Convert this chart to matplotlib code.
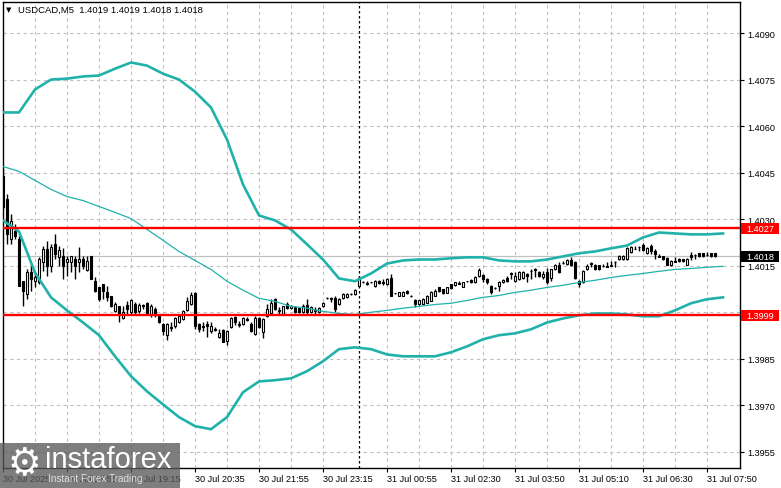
import matplotlib
matplotlib.use("Agg")
import matplotlib.pyplot as plt
import matplotlib.transforms as mtransforms
from matplotlib.patches import Rectangle

plt.rcParams["font.family"] = ["Liberation Sans", "DejaVu Sans"]

# USDCAD M5 candles (bar 0 = left edge)
open_ = [
    1.40438, 1.40364, 1.40235, 1.40261, 1.40235, 1.40100, 1.40058, 1.40129, 1.40100, 1.40096,
    1.40161, 1.40203, 1.40148, 1.40219, 1.40177, 1.40180, 1.40161, 1.40161, 1.40171, 1.40161,
    1.40171, 1.40135, 1.40180, 1.40100, 1.40080, 1.40090, 1.40064, 1.40051, 1.40003, 1.40019,
    1.39980, 1.40022, 1.40000, 1.40025, 1.40003, 1.40022, 1.40029, 1.39990, 1.40009, 1.39987,
    1.39961, 1.39926, 1.39951, 1.39955, 1.39967, 1.39977, 1.40006, 1.40025, 1.40061, 1.39961,
    1.39955, 1.39961, 1.39938, 1.39945, 1.39919, 1.39942, 1.39906, 1.39951, 1.39984, 1.39961,
    1.39961, 1.39977, 1.39961, 1.39929, 1.39980, 1.39935, 1.39987, 1.39996, 1.40042, 1.40003,
    1.39993, 1.40025, 1.40013, 1.40016, 1.40013, 1.40000, 1.40022, 1.40000, 1.40003, 1.40000,
    1.40019, 1.40045, 1.40045, 1.40045, 1.40025, 1.40045, 1.40048, 1.40058, 1.40058, 1.40084,
    1.40096, 1.40093, 1.40096, 1.40084, 1.40100, 1.40096, 1.40090, 1.40109, 1.40061, 1.40051,
    1.40051, 1.40067, 1.40051, 1.40038, 1.40025, 1.40025, 1.40029, 1.40035, 1.40051, 1.40080,
    1.40074, 1.40061, 1.40090, 1.40087, 1.40093, 1.40080, 1.40100, 1.40103, 1.40096, 1.40116,
    1.40119, 1.40106, 1.40084, 1.40077, 1.40084, 1.40096, 1.40109, 1.40125, 1.40100, 1.40106,
    1.40109, 1.40122, 1.40132, 1.40138, 1.40129, 1.40113, 1.40129, 1.40109, 1.40138, 1.40151,
    1.40158, 1.40155, 1.40167, 1.40161, 1.40100, 1.40096, 1.40138, 1.40158, 1.40151, 1.40151,
    1.40148, 1.40148, 1.40148, 1.40161, 1.40171, 1.40171, 1.40171, 1.40193, 1.40203, 1.40209,
    1.40216, 1.40190, 1.40213, 1.40196, 1.40180, 1.40180, 1.40174, 1.40151, 1.40164, 1.40171,
    1.40171, 1.40151, 1.40184, 1.40184, 1.40190, 1.40190, 1.40184, 1.40190, 1.40190,
]
close_ = [
    1.40338, 1.40251, 1.40293, 1.40245, 1.40084, 1.40067, 1.40129, 1.40106, 1.40113, 1.40171,
    1.40203, 1.40148, 1.40209, 1.40187, 1.40200, 1.40148, 1.40171, 1.40180, 1.40148, 1.40171,
    1.40148, 1.40164, 1.40106, 1.40067, 1.40042, 1.40067, 1.40048, 1.40019, 1.40025, 1.39993,
    1.40000, 1.40009, 1.40038, 1.40000, 1.40022, 1.40019, 1.39996, 1.40019, 1.39993, 1.39967,
    1.39938, 1.39961, 1.39948, 1.39980, 1.39987, 1.40003, 1.40035, 1.40055, 1.39955, 1.39945,
    1.39951, 1.39955, 1.39955, 1.39942, 1.39932, 1.39903, 1.39938, 1.39980, 1.39967, 1.39958,
    1.39980, 1.39974, 1.39938, 1.39980, 1.39951, 1.39977, 1.40009, 1.40029, 1.40009, 1.40006,
    1.40019, 1.40013, 1.40019, 1.40000, 1.40000, 1.40019, 1.40000, 1.40016, 1.40006, 1.40013,
    1.40029, 1.40045, 1.40042, 1.40009, 1.40042, 1.40058, 1.40058, 1.40058, 1.40071, 1.40109,
    1.40096, 1.40090, 1.40096, 1.40100, 1.40093, 1.40093, 1.40106, 1.40051, 1.40061, 1.40064,
    1.40064, 1.40061, 1.40051, 1.40025, 1.40038, 1.40042, 1.40051, 1.40064, 1.40067, 1.40067,
    1.40061, 1.40080, 1.40077, 1.40096, 1.40090, 1.40096, 1.40100, 1.40096, 1.40113, 1.40135,
    1.40106, 1.40096, 1.40064, 1.40077, 1.40096, 1.40103, 1.40100, 1.40122, 1.40116, 1.40129,
    1.40129, 1.40116, 1.40132, 1.40135, 1.40116, 1.40122, 1.40096, 1.40138, 1.40151, 1.40129,
    1.40158, 1.40167, 1.40151, 1.40109, 1.40090, 1.40132, 1.40148, 1.40155, 1.40138, 1.40138,
    1.40148, 1.40145, 1.40151, 1.40161, 1.40180, 1.40180, 1.40206, 1.40209, 1.40203, 1.40209,
    1.40200, 1.40206, 1.40196, 1.40187, 1.40177, 1.40171, 1.40151, 1.40164, 1.40161, 1.40164,
    1.40164, 1.40171, 1.40177, 1.40184, 1.40180, 1.40180, 1.40184, 1.40180, 1.40180,
]
high_ = [
    1.40461, 1.40380, 1.40316, 1.40284, 1.40245, 1.40100, 1.40138, 1.40155, 1.40129, 1.40177,
    1.40213, 1.40229, 1.40219, 1.40251, 1.40213, 1.40206, 1.40180, 1.40180, 1.40180, 1.40209,
    1.40180, 1.40180, 1.40180, 1.40113, 1.40080, 1.40090, 1.40084, 1.40051, 1.40032, 1.40019,
    1.40019, 1.40035, 1.40042, 1.40032, 1.40029, 1.40025, 1.40032, 1.40025, 1.40016, 1.39990,
    1.39964, 1.39964, 1.39967, 1.39984, 1.39990, 1.40006, 1.40048, 1.40064, 1.40064, 1.39964,
    1.39967, 1.39971, 1.39967, 1.39951, 1.39945, 1.39945, 1.39942, 1.39984, 1.39987, 1.39971,
    1.39984, 1.39984, 1.39967, 1.39987, 1.39984, 1.39980, 1.40025, 1.40042, 1.40045, 1.40016,
    1.40019, 1.40032, 1.40022, 1.40019, 1.40016, 1.40025, 1.40042, 1.40019, 1.40016, 1.40016,
    1.40032, 1.40048, 1.40048, 1.40051, 1.40045, 1.40061, 1.40061, 1.40061, 1.40074, 1.40116,
    1.40100, 1.40100, 1.40096, 1.40103, 1.40103, 1.40106, 1.40109, 1.40122, 1.40061, 1.40064,
    1.40067, 1.40071, 1.40055, 1.40042, 1.40038, 1.40045, 1.40055, 1.40067, 1.40074, 1.40080,
    1.40074, 1.40080, 1.40090, 1.40096, 1.40100, 1.40096, 1.40100, 1.40106, 1.40116, 1.40142,
    1.40122, 1.40109, 1.40087, 1.40080, 1.40100, 1.40106, 1.40116, 1.40129, 1.40129, 1.40132,
    1.40132, 1.40125, 1.40138, 1.40142, 1.40132, 1.40132, 1.40142, 1.40138, 1.40155, 1.40161,
    1.40164, 1.40171, 1.40177, 1.40164, 1.40103, 1.40135, 1.40155, 1.40161, 1.40155, 1.40151,
    1.40155, 1.40161, 1.40164, 1.40164, 1.40184, 1.40184, 1.40209, 1.40213, 1.40213, 1.40213,
    1.40222, 1.40209, 1.40219, 1.40203, 1.40187, 1.40180, 1.40177, 1.40167, 1.40177, 1.40174,
    1.40171, 1.40174, 1.40193, 1.40187, 1.40190, 1.40190, 1.40193, 1.40190, 1.40190,
]
low_ = [
    1.40332, 1.40219, 1.40219, 1.40235, 1.40084, 1.40019, 1.40042, 1.40067, 1.40080, 1.40090,
    1.40132, 1.40116, 1.40129, 1.40171, 1.40148, 1.40106, 1.40116, 1.40129, 1.40106, 1.40129,
    1.40138, 1.40132, 1.40106, 1.40064, 1.40035, 1.40042, 1.40035, 1.40016, 1.40000, 1.39967,
    1.39977, 1.39993, 1.39993, 1.39990, 1.39996, 1.40009, 1.39993, 1.39984, 1.39984, 1.39964,
    1.39926, 1.39909, 1.39938, 1.39948, 1.39964, 1.39974, 1.40003, 1.40022, 1.39945, 1.39935,
    1.39938, 1.39919, 1.39932, 1.39938, 1.39916, 1.39903, 1.39896, 1.39948, 1.39958, 1.39951,
    1.39958, 1.39971, 1.39935, 1.39926, 1.39948, 1.39916, 1.39984, 1.39993, 1.40006, 1.39993,
    1.39990, 1.40009, 1.40009, 1.39996, 1.39996, 1.39996, 1.39993, 1.39996, 1.39993, 1.39996,
    1.40016, 1.40042, 1.40032, 1.40000, 1.40022, 1.40042, 1.40045, 1.40055, 1.40055, 1.40080,
    1.40093, 1.40087, 1.40093, 1.40080, 1.40090, 1.40087, 1.40087, 1.40051, 1.40058, 1.40051,
    1.40051, 1.40058, 1.40048, 1.40016, 1.40022, 1.40025, 1.40029, 1.40035, 1.40051, 1.40064,
    1.40058, 1.40061, 1.40074, 1.40084, 1.40090, 1.40080, 1.40096, 1.40093, 1.40093, 1.40113,
    1.40096, 1.40090, 1.40058, 1.40074, 1.40067, 1.40093, 1.40096, 1.40106, 1.40096, 1.40103,
    1.40106, 1.40096, 1.40106, 1.40113, 1.40113, 1.40106, 1.40090, 1.40100, 1.40135, 1.40125,
    1.40155, 1.40151, 1.40148, 1.40106, 1.40080, 1.40093, 1.40135, 1.40145, 1.40135, 1.40135,
    1.40145, 1.40145, 1.40148, 1.40145, 1.40167, 1.40167, 1.40167, 1.40190, 1.40203, 1.40196,
    1.40196, 1.40187, 1.40187, 1.40171, 1.40177, 1.40167, 1.40151, 1.40148, 1.40161, 1.40161,
    1.40161, 1.40151, 1.40167, 1.40171, 1.40177, 1.40177, 1.40180, 1.40177, 1.40177,
]

# Bollinger bands, sampled every 4 bars
band_idx = list(range(0, 181, 4))
upper_band = [
    1.40644, 1.40644, 1.40718, 1.40750, 1.40753, 1.40760, 1.40763, 1.40785, 1.40805, 1.40795,
    1.40769, 1.40750, 1.40711, 1.40660, 1.40557, 1.40412, 1.40312, 1.40296, 1.40267, 1.40219,
    1.40170, 1.40109, 1.40100, 1.40125, 1.40157, 1.40167, 1.40170, 1.40170, 1.40174, 1.40177,
    1.40177, 1.40167, 1.40164, 1.40164, 1.40170, 1.40180, 1.40190, 1.40196, 1.40206, 1.40215,
    1.40241, 1.40257, 1.40254, 1.40251, 1.40251, 1.40254,
]
middle_band = [
    1.40470, 1.40454, 1.40425, 1.40396, 1.40373, 1.40360, 1.40341, 1.40322, 1.40302, 1.40267,
    1.40232, 1.40196, 1.40167, 1.40138, 1.40100, 1.40071, 1.40045, 1.40035, 1.40019, 1.40013,
    1.40003, 1.39996, 1.39993, 1.40000, 1.40006, 1.40013, 1.40019, 1.40025, 1.40029, 1.40038,
    1.40048, 1.40054, 1.40064, 1.40071, 1.40080, 1.40087, 1.40096, 1.40103, 1.40112, 1.40119,
    1.40125, 1.40132, 1.40138, 1.40141, 1.40145, 1.40148,
]
lower_band = [
    1.40296, 1.40260, 1.40128, 1.40048, 1.40006, 1.39967, 1.39926, 1.39858, 1.39794, 1.39745,
    1.39703, 1.39662, 1.39633, 1.39623, 1.39662, 1.39742, 1.39777, 1.39781, 1.39787, 1.39810,
    1.39842, 1.39881, 1.39887, 1.39881, 1.39864, 1.39858, 1.39858, 1.39858, 1.39871, 1.39890,
    1.39913, 1.39926, 1.39932, 1.39945, 1.39967, 1.39980, 1.39990, 1.39996, 1.39996, 1.39993,
    1.39987, 1.39987, 1.40006, 1.40029, 1.40042, 1.40048,
]

time_idx = [0, 16, 32, 48, 64, 80, 96, 112, 128, 144, 160, 176]
time_labels = ["30 Jul 2025", "30 Jul 17:55", "30 Jul 19:15", "30 Jul 20:35",
               "30 Jul 21:55", "30 Jul 23:15", "31 Jul 00:55", "31 Jul 02:30",
               "31 Jul 03:50", "31 Jul 05:10", "31 Jul 06:30", "31 Jul 07:50"]
price_ticks = [1.3955, 1.3970, 1.3985, 1.4000, 1.4015, 1.4030, 1.4045, 1.4060, 1.4075, 1.4090]

resistance = 1.4027
support = 1.3999
day_break = 89
last_price = close_[-1]

teal = "#20b2aa"
grid_col = "#c0c0c0"

fig = plt.figure(figsize=(7.81, 4.89), dpi=100)
fig.patch.set_facecolor("white")
ax = fig.add_axes([3 / 781, 20 / 489, 737 / 781, 466 / 489])
ax.set_xlim(0, 184.25)
ax.set_ylim(1.39498, 1.41000)

# dashed grid
for gx in range(8, 184, 8):
    if gx == 88:
        continue
    ax.axvline(gx, color=grid_col, lw=0.8, ls=(0, (3, 3)), zorder=0)
for p in price_ticks:
    ax.axhline(p, color=grid_col, lw=0.8, ls=(0, (3, 3)), zorder=0)

ax.axvline(day_break, color="black", lw=0.9, ls=(0, (2, 2)), zorder=1)
ax.axhline(last_price, color=grid_col, lw=0.9, zorder=1)

# candles
for i in range(len(close_)):
    o, h, l, c = open_[i], high_[i], low_[i], close_[i]
    ax.vlines(i, l, h, color="black", lw=1.0, zorder=3)
    face = "white" if c >= o else "black"
    ax.bar(i, abs(c - o), bottom=min(o, c), width=0.72, facecolor=face,
           edgecolor="black", linewidth=0.8, zorder=4)

ax.plot(band_idx, upper_band, color=teal, lw=1.9, zorder=5)
ax.plot(band_idx, lower_band, color=teal, lw=1.9, zorder=5)
ax.plot(band_idx, middle_band, color=teal, lw=0.9, zorder=5)

ax.axhline(resistance, color="red", lw=1.7, zorder=6)
ax.axhline(support, color="red", lw=1.7, zorder=6)

ax.yaxis.tick_right()
ax.set_yticks(price_ticks)
ax.set_yticklabels([f"{p:.4f}" for p in price_ticks])
ax.tick_params(axis="y", length=3, pad=2.2, labelsize=6.6, width=0.8)
ax.set_xticks(time_idx)
ax.set_xticklabels(time_labels, ha="left")
ax.tick_params(axis="x", length=3, pad=1.5, labelsize=6.6, width=0.8)
for s in ax.spines.values():
    s.set_linewidth(1.0)
    s.set_color("black")

# price tags on the right scale
trans = mtransforms.blended_transform_factory(ax.transAxes, ax.transData)
box_h = 0.000354
for val, col in [(resistance, "red"), (support, "red"), (last_price, "black")]:
    ax.add_patch(Rectangle((1.0 + 1 / 737, val - box_h / 2), 38 / 737, box_h,
                           transform=trans, facecolor=col, edgecolor="none",
                           clip_on=False, zorder=9))
    ax.text(1.0 + 6 / 737, val, f"{val:.4f}", transform=trans, ha="left", va="center",
            fontsize=6.6, color="white", clip_on=False, zorder=10)

fig.text(6 / 781, 1 - 10 / 489, "\u25bc", fontsize=5, va="center", ha="left",
         family="DejaVu Sans")
fig.text(18 / 781, 1 - 10 / 489, "USDCAD,M5  1.4019 1.4019 1.4018 1.4018",
         fontsize=6.8, va="center", ha="left")

# watermark
fig.add_artist(Rectangle((0, 0), 180 / 781, 45 / 489, transform=fig.transFigure,
                         facecolor="#5a5a5a", edgecolor="none", alpha=0.78, zorder=20))
fig.text(24 / 781, 24 / 489, "\u2699", fontsize=27, color="white", va="center",
         ha="center", family="DejaVu Sans", zorder=21)
fig.text(45 / 781, 21 / 489, "instaforex", fontsize=21, color="white", va="baseline",
         ha="left", zorder=21)
fig.text(48 / 781, 10 / 489, "Instant Forex Trading", fontsize=7.2, color="#e0e0e0",
         va="center", ha="left", zorder=21)

fig.savefig("out.png", dpi=100)
